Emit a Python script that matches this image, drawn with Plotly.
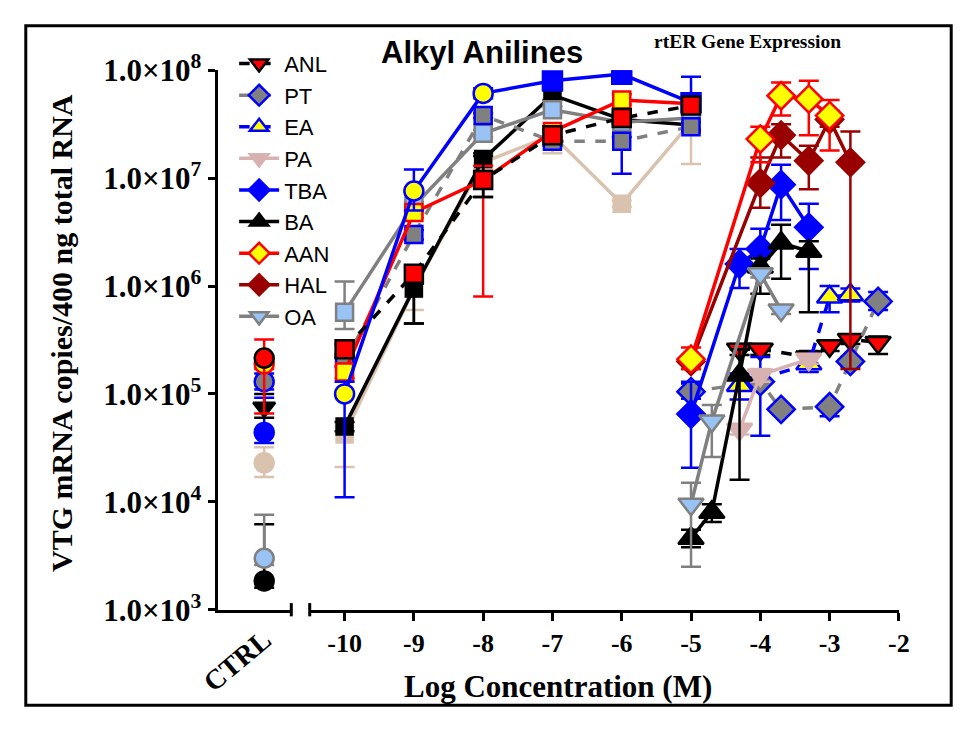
import plotly.graph_objects as go

W, H = 969, 729

# ---------------- data ----------------
# Control group (plotted on the separate "CTRL" axis segment)
ctrl_cat = ["CTRL"]
ctrl_vals = [2.15e5, 1.9e5, 1.3e5, 7.5e4, 4.4e4, 2.3e4, 3.0e3, 1.85e3]
ctrl_hi = [3.2e5, 2.1e5, 1.55e5, 1.0e5, 9.2e4, 3.2e4, 7.6e3, 6.2e3]
ctrl_lo = [6.6e4, 1.7e5, 1.1e5, 6.0e4, 3.5e4, 1.7e4, 2.6e3, 1.6e3]

# Reference (estradiol) curves, log concentration -10 .. -5
e2_x = [-10, -9, -8, -7, -6, -5]
e2_pa = [4.2e4, 9.4e5, 1.4e7, 2.5e7, 5.8e6, 3.3e7]
e2_pa_hi = [5.0e4, 1.1e6, 1.6e7, 2.8e7, 6.2e6, 4.0e7]
e2_pa_lo = [2.1e4, 6.0e5, 1.2e7, 1.7e7, 5.4e6, 1.35e7]
e2_ba = [5.0e4, 9.5e5, 1.5e7, 5.9e7, 3.5e7, 3.1e7]
e2_ba_hi = [5.5e4, 1.05e6, 1.7e7, 6.5e7, 3.8e7, 3.4e7]
e2_ba_lo = [4.5e4, 4.5e5, 6.7e6, 5.3e7, 3.2e7, 2.8e7]
e2_oa = [5.7e5, 5.5e6, 2.6e7, 4.3e7, 3.3e7, 3.6e7]
e2_oa_hi = [1.1e6, 6.0e6, 2.8e7, 4.6e7, 3.5e7, 3.8e7]
e2_oa_lo = [4.0e5, 5.0e6, 2.4e7, 4.0e7, 3.1e7, 3.4e7]
e2_pt = [2.0e5, 3.0e6, 3.8e7, 2.2e7, 2.2e7, 3.0e7]
e2_pt_hi = [2.2e5, 3.3e6, 4.0e7, 2.4e7, 2.4e7, 3.3e7]
e2_pt_lo = [1.8e5, 2.7e6, 3.6e7, 2.0e7, 1.1e7, 2.7e7]
e2_aan = [1.6e5, 4.8e6, 9.6e6, 2.7e7, 5.3e7, 4.9e7]
e2_aan_hi = [1.8e5, 5.3e6, 1.3e7, 3.0e7, 6.0e7, 5.5e7]
e2_aan_lo = [1.4e5, 4.3e6, 8.0e5, 2.4e7, 4.8e7, 4.4e7]
e2_tba = [1.0e5, 7.6e6, 6.1e7, 8.0e7, 9.2e7, 5.0e7]
e2_tba_hi = [1.3e5, 1.2e7, 6.8e7, 8.8e7, 1.0e8, 8.7e7]
e2_tba_lo = [1.1e4, 5.0e6, 5.5e7, 7.2e7, 8.4e7, 4.0e7]
e2_anl = [2.6e5, 1.3e6, 9.6e6, 2.5e7, 3.6e7, 4.7e7]
e2_anl_hi = [2.9e5, 1.5e6, 1.6e7, 2.8e7, 4.0e7, 5.2e7]
e2_anl_lo = [2.3e5, 4.5e5, 6.7e6, 2.2e7, 3.2e7, 4.2e7]

# Alkyl anilines (legend series)
anl_x = [-4.3, -4.0, -3.3, -3.0, -2.7, -2.3]
anl_y = [2.6e5, 2.6e5, 2.2e5, 2.8e5, 3.2e5, 3.0e5]
anl_hi = [2.9e5, 2.9e5, 2.5e5, 3.1e5, 3.5e5, 3.4e5]
anl_lo = [2.3e5, 2.3e5, 1.9e5, 2.5e5, 2.9e5, 2.35e5]

pt_x = [-5.0, -4.0, -3.7, -3.0, -2.7, -2.3]
pt_y = [1.05e5, 1.3e5, 7.2e4, 7.6e4, 2.0e5, 7.2e5]
pt_hi = [1.25e5, 2.2e5, 7.6e4, 8.0e4, 2.2e5, 8.8e5]
pt_lo = [9.0e4, 4.1e4, 6.8e4, 6.2e4, 1.8e5, 6.0e5]

ea_x = [-4.3, -3.3, -3.0, -2.7]
ea_y = [1.2e5, 1.9e5, 7.9e5, 8.3e5]
ea_hi = [1.55e5, 2.3e5, 1.0e6, 9.5e5]
ea_lo = [8.9e4, 1.6e5, 5.7e5, 7.2e5]

pa_x = [-4.3, -4.0, -3.3]
pa_y = [4.7e4, 1.5e5, 2.1e5]
pa_hi = [5.2e4, 1.7e5, 2.3e5]
pa_lo = [4.2e4, 1.3e5, 1.9e5]

tba_x = [-5.0, -4.3, -4.0, -3.7, -3.3]
tba_y = [6.5e4, 1.6e6, 2.2e6, 8.7e6, 3.5e6]
tba_hi = [1.3e5, 2.2e6, 3.4e6, 1.33e7, 5.8e6]
tba_lo = [2.07e4, 9.6e5, 1.3e6, 4.1e6, 1.44e6]

ba_x = [-5.0, -4.7, -4.3, -4.0, -3.7, -3.3]
ba_y = [4.6e3, 8.0e3, 1.5e5, 1.5e6, 2.5e6, 2.1e6]
ba_hi = [5.5e3, 9.5e3, 2.6e5, 1.8e6, 3.7e6, 2.6e6]
ba_lo = [3.8e3, 6.5e3, 1.6e4, 8.5e5, 1.17e6, 5.7e5]

aan_x = [-5.0, -4.0, -3.7, -3.3, -3.0]
aan_y = [2.1e5, 2.3e7, 5.8e7, 5.4e7, 3.8e7]
aan_hi = [2.7e5, 3.0e7, 7.7e7, 8.0e7, 5.3e7]
aan_lo = [1.7e5, 1.4e7, 3.8e7, 2.5e7, 1.8e7]

hal_x = [-5.0, -4.0, -3.7, -3.3, -3.0, -2.7]
hal_y = [2.0e5, 9.0e6, 2.5e7, 1.45e7, 3.5e7, 1.4e7]
hal_hi = [2.3e5, 1.55e7, 3.16e7, 2.0e7, 4.2e7, 2.7e7]
hal_lo = [1.7e5, 5.3e6, 1.55e7, 7.9e6, 3.0e7, 1.7e5]

oa_x = [-5.0, -4.7, -4.0, -3.7]
oa_y = [9.5e3, 5.6e4, 1.3e6, 6.0e5]
oa_hi = [1.5e4, 7.9e4, 1.4e6, 6.5e5]
oa_lo = [2.5e3, 2.6e4, 1.2e6, 5.5e5]

y_tickvals = [1e3, 1e4, 1e5, 1e6, 1e7, 1e8]
y_ticktext = ["1.0×10<sup>%d</sup>" % e for e in range(3, 9)]
x_tickvals = [-10, -9, -8, -7, -6, -5, -4, -3, -2]
x_ticktext = ["-10", "-9", "-8", "-7", "-6", "-5", "-4", "-3", "-2"]

# ---------------- styles ----------------
BLUE = "#0000FF"
RED = "#FF0000"
DRED = "#990000"
BLACK = "#000000"
GRAY = "#808080"
TAN = "#D9C2AE"
PINK = "#D8B2B0"
LBLUE = "#99C2F5"
YEL = "#FFFF00"

SERIF = "Liberation Serif"
SANS = "Liberation Sans"


def err(vals, hi, lo, color, thick=2.5):
    return dict(type="data", symmetric=False,
                array=[h - v for h, v in zip(hi, vals)],
                arrayminus=[v - l for v, l in zip(vals, lo)],
                color=color, thickness=thick, width=10)


fig = go.Figure()


def add(x, y, hi, lo, xa, lcolor, dash, symbol, fill, mline, size,
        ecolor, name=None, legend=False, rank=1000, ethick=2.5):
    fig.add_trace(go.Scatter(
        x=x, y=y, xaxis=xa, yaxis="y", mode="lines+markers", name=name,
        showlegend=legend, legendrank=rank,
        line=dict(color=lcolor, width=3.5, dash=dash),
        marker=dict(symbol=symbol, color=fill, size=size,
                    line=dict(color=mline, width=2.5)),
        error_y=err(y, hi, lo, ecolor, ethick),
    ))


# estradiol reference curves (left cluster)
add(e2_x, e2_pa, e2_pa_hi, e2_pa_lo, "x2", TAN, "solid", "square", TAN, TAN, 16, TAN)
add(e2_x, e2_ba, e2_ba_hi, e2_ba_lo, "x2", BLACK, "solid", "square", BLACK, BLACK, 16, BLACK)
add(e2_x, e2_oa, e2_oa_hi, e2_oa_lo, "x2", GRAY, "solid", "square", LBLUE, GRAY, 17, GRAY)
add(e2_x, e2_pt, e2_pt_hi, e2_pt_lo, "x2", GRAY, "dash", "square", GRAY, BLUE, 17, BLUE)
add(e2_x, e2_aan, e2_aan_hi, e2_aan_lo, "x2", RED, "solid", "square", YEL, RED, 17, RED)
tba_sym = ["circle", "circle", "circle", "square", "square", "square"]
tba_fill = [YEL, YEL, YEL, BLUE, BLUE, BLUE]
fig.add_trace(go.Scatter(
    x=e2_x, y=e2_tba, xaxis="x2", yaxis="y", mode="lines+markers",
    showlegend=False, line=dict(color=BLUE, width=3.5),
    marker=dict(symbol=tba_sym, color=tba_fill, size=19,
                line=dict(color=BLUE, width=2.5)),
    error_y=err(e2_tba, e2_tba_hi, e2_tba_lo, BLUE)))
add(e2_x, e2_anl, e2_anl_hi, e2_anl_lo, "x2", BLACK, "dash", "square", RED, BLACK, 18, BLACK)

# control points
ctrl_styles = [
    ("circle", RED, BLACK, RED),
    ("circle", YEL, RED, RED),
    ("circle", GRAY, BLUE, BLUE),
    ("triangle-down", BLACK, BLACK, BLACK),
    ("circle", BLUE, BLUE, BLUE),
    ("circle", TAN, TAN, TAN),
    ("circle", LBLUE, GRAY, GRAY),
    ("circle", BLACK, BLACK, BLACK),
]
order = [5, 7, 6, 4, 3, 2, 1, 0]
for i in order:
    sym, fill, mline, ec = ctrl_styles[i]
    fig.add_trace(go.Scatter(
        x=ctrl_cat, y=[ctrl_vals[i]], xaxis="x", yaxis="y", mode="markers",
        showlegend=False,
        marker=dict(symbol=sym, color=fill, size=19,
                    line=dict(color=mline, width=2.5)),
        error_y=err([ctrl_vals[i]], [ctrl_hi[i]], [ctrl_lo[i]], ec)))

# alkyl anilines (legend series); HAL drawn before AAN, legend order kept by rank
add(anl_x, anl_y, anl_hi, anl_lo, "x2", BLACK, "dash", "triangle-down", RED, BLACK, 22, BLACK, "ANL", True, 1)
add(pt_x, pt_y, pt_hi, pt_lo, "x2", GRAY, "dash", "diamond", GRAY, BLUE, 21, BLUE, "PT", True, 2)
add(ea_x, ea_y, ea_hi, ea_lo, "x2", BLUE, "dash", "triangle-up", YEL, BLUE, 22, BLUE, "EA", True, 3)
add(pa_x, pa_y, pa_hi, pa_lo, "x2", PINK, "solid", "triangle-down", PINK, PINK, 22, PINK, "PA", True, 4)
add(tba_x, tba_y, tba_hi, tba_lo, "x2", BLUE, "solid", "diamond", BLUE, BLUE, 21, BLUE, "TBA", True, 5)
add(ba_x, ba_y, ba_hi, ba_lo, "x2", BLACK, "solid", "triangle-up", BLACK, BLACK, 22, BLACK, "BA", True, 6)
add(hal_x, hal_y, hal_hi, hal_lo, "x2", DRED, "solid", "diamond", DRED, DRED, 21, DRED, "HAL", True, 8)
add(aan_x, aan_y, aan_hi, aan_lo, "x2", RED, "solid", "diamond", YEL, RED, 21, RED, "AAN", True, 7)
add(oa_x, oa_y, oa_hi, oa_lo, "x2", GRAY, "solid", "triangle-down", LBLUE, GRAY, 22, GRAY, "OA", True, 9)

# ---------------- layout ----------------
def px(v):
    return v / W


def py(v):
    return 1 - v / H


X_LEFT, X_CTRL_END, X_MAIN_START, X_RIGHT = 205, 281, 300, 908
Y_TOP, Y_BOT = 52, 622
main_range = [-10.5034, -2]

fig.update_layout(
    width=W, height=H, margin=dict(l=0, r=0, t=0, b=0),
    paper_bgcolor="white", plot_bgcolor="white",
    xaxis=dict(domain=[px(X_LEFT), px(X_CTRL_END)], anchor="y",
               type="category", range=[-0.6316, 0.3684],
               showline=True, linewidth=3, linecolor="black",
               ticks="", tickangle=-40, showgrid=False, zeroline=False,
               tickfont=dict(family=SERIF, size=28, color="black", weight="bold")),
    xaxis2=dict(domain=[px(X_MAIN_START), px(X_RIGHT)], anchor="y",
                range=main_range, showline=True, linewidth=3,
                linecolor="black", ticks="outside", ticklen=8, tickwidth=3,
                tickcolor="black", tickvals=x_tickvals, ticktext=x_ticktext,
                showgrid=False, zeroline=False,
                tickfont=dict(family=SERIF, size=26, color="black", weight="bold")),
    yaxis=dict(domain=[py(Y_BOT), py(Y_TOP)], anchor="x", type="log",
               range=[3, 8], showline=True, linewidth=3, linecolor="black",
               ticks="outside", ticklen=7, tickwidth=3, tickcolor="black",
               tickvals=y_tickvals, ticktext=y_ticktext, showgrid=False,
               zeroline=False,
               tickfont=dict(family=SERIF, size=31, color="black", weight="bold")),
    legend=dict(x=px(222), y=py(23), xanchor="left", yanchor="top",
                bgcolor="rgba(0,0,0,0)", tracegroupgap=0, itemwidth=40,
                font=dict(family=SANS, size=22, color="black")),
    showlegend=True,
)

annots = [
    dict(text="Alkyl Anilines", x=px(478), y=py(33),
         font=dict(family=SANS, size=31, color="black", weight="bold")),
    dict(text="rtER Gene Expression", x=px(752), y=py(22),
         font=dict(family=SERIF, size=19.5, color="black", weight="bold")),
    dict(text="VTG mRNA copies/400 ng total RNA", x=px(44), y=py(330),
         textangle=-90,
         font=dict(family=SERIF, size=30, color="black", weight="bold")),
    dict(text="Log Concentration (M)", x=px(556), y=py(703),
         font=dict(family=SERIF, size=31, color="black", weight="bold")),
]
for a in annots:
    fig.add_annotation(xref="paper", yref="paper", showarrow=False,
                       xanchor="center", yanchor="middle", **a)

shapes = [
    # outer frame
    dict(type="rect", x0=px(7), x1=px(962), y0=py(723), y1=py(5),
         line=dict(color="black", width=3)),
    # axis-break marks
    dict(type="line", x0=px(X_CTRL_END), x1=px(X_CTRL_END),
         y0=py(Y_BOT - 7), y1=py(Y_BOT + 7), line=dict(color="black", width=3)),
    dict(type="line", x0=px(X_MAIN_START), x1=px(X_MAIN_START),
         y0=py(Y_BOT - 7), y1=py(Y_BOT + 7), line=dict(color="black", width=3)),
]
for s in shapes:
    fig.add_shape(xref="paper", yref="paper", **s)

fig.write_html("out.html",
               config={"displayModeBar": False},
               post_script="document.body.style.margin='0';"
                           "document.body.style.padding='0';"
                           "document.body.style.overflow='hidden';")
